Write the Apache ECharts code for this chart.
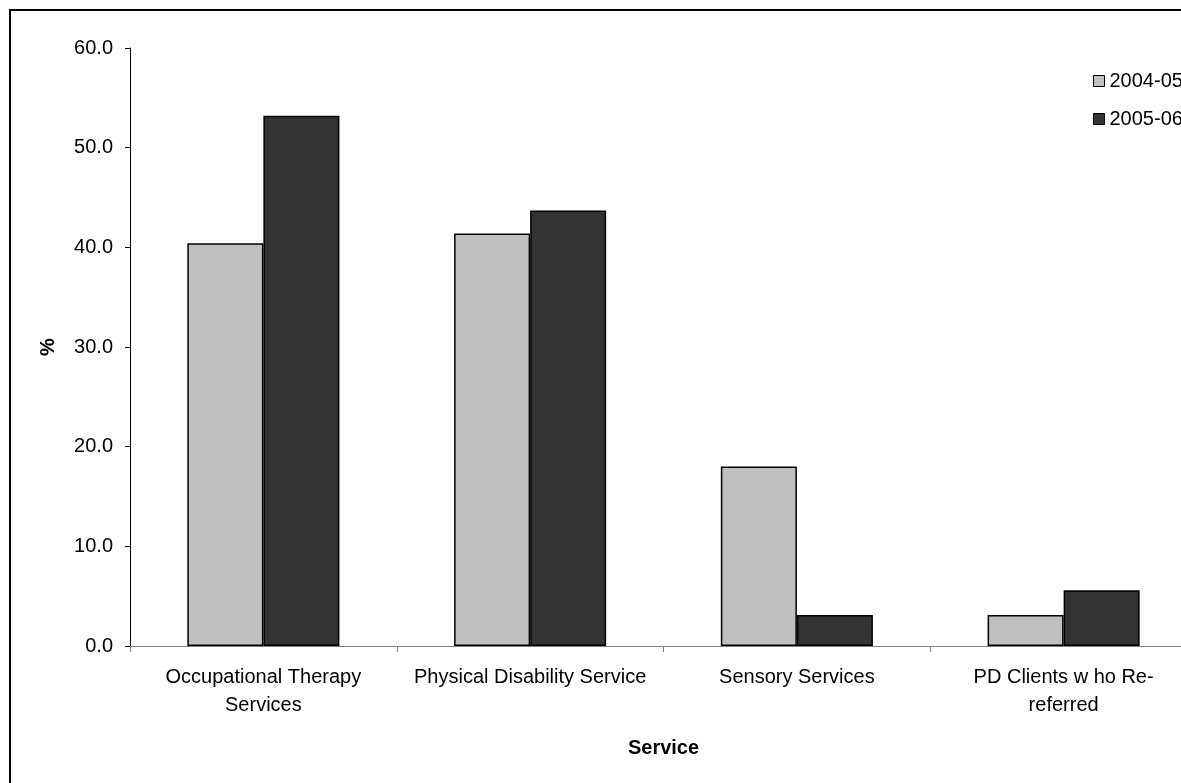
<!DOCTYPE html>
<html>
<head>
<meta charset="utf-8">
<script src="https://cdn.jsdelivr.net/npm/echarts@6/dist/echarts.min.js"></script>
<style>
  html, body { margin: 0; padding: 0; background: #fff; overflow: hidden; }
  #chart { width: 1240px; height: 783px; }
</style>
</head>
<body>
<div id="chart"></div>
<script>
// Service categories along the x axis
const categories = [
  'Occupational Therapy\nServices',
  'Physical Disability Service',
  'Sensory Services',
  'PD Clients w ho Re-\nreferred'
];
// Percentages per year
const series2004 = [40.4, 41.4, 18.0, 3.1];
const series2005 = [53.2, 43.7, 3.1, 5.6];
const seriesNames = ['2004-05', '2005-06'];
const yTicks = { min: 0, max: 60, interval: 10 };

const font = 'Arial, "Liberation Sans", sans-serif';
const chart = echarts.init(document.getElementById('chart'), null, { renderer: 'canvas' });

chart.setOption({
  backgroundColor: '#ffffff',
  animation: false,
  graphic: [{
    type: 'rect',
    shape: { x: 10, y: 10, width: 1300, height: 900 },
    style: { fill: 'none', stroke: '#000', lineWidth: 2 },
    silent: true
  }],
  grid: { left: 130, right: 43, top: 48, bottom: 137 },
  legend: {
    orient: 'vertical',
    left: 1088,
    top: 66,
    icon: 'rect',
    itemWidth: 11,
    itemHeight: 11,
    itemGap: 18,
    itemStyle: { borderColor: '#000', borderWidth: 1 },
    textStyle: { fontFamily: font, fontSize: 20, color: '#000', lineHeight: 20 },
    data: seriesNames
  },
  xAxis: {
    type: 'category',
    data: categories,
    name: 'Service',
    nameLocation: 'middle',
    nameGap: 92,
    nameTextStyle: { fontFamily: font, fontSize: 20, fontWeight: 'bold', color: '#000' },
    axisLine: { lineStyle: { color: '#808080', width: 1 } },
    axisTick: { show: true, interval: 0, length: 6, lineStyle: { color: '#808080' } },
    axisLabel: {
      interval: 0,
      margin: 17,
      fontFamily: font,
      fontSize: 20,
      lineHeight: 28,
      color: '#000'
    },
    splitLine: { show: false }
  },
  yAxis: {
    type: 'value',
    min: yTicks.min,
    max: yTicks.max,
    interval: yTicks.interval,
    name: '%',
    nameLocation: 'middle',
    nameRotate: 90,
    nameGap: 72,
    nameTextStyle: { fontFamily: font, fontSize: 20, fontWeight: 'bold', color: '#000' },
    axisLine: { show: true, lineStyle: { color: '#000', width: 1 } },
    axisTick: { show: true, length: 5, lineStyle: { color: '#000' } },
    axisLabel: {
      margin: 17,
      fontFamily: font,
      fontSize: 20,
      color: '#000',
      formatter: v => v.toFixed(1)
    },
    splitLine: { show: false }
  },
  series: [
    {
      name: seriesNames[0],
      type: 'bar',
      data: series2004,
      barGap: '0%',
      barCategoryGap: '43%',
      itemStyle: { color: '#C0C0C0', borderColor: '#000', borderWidth: 1.5 }
    },
    {
      name: seriesNames[1],
      type: 'bar',
      data: series2005,
      barGap: '0%',
      barCategoryGap: '43%',
      itemStyle: { color: '#333333', borderColor: '#000', borderWidth: 1.5 }
    }
  ]
});
</script>
</body>
</html>
